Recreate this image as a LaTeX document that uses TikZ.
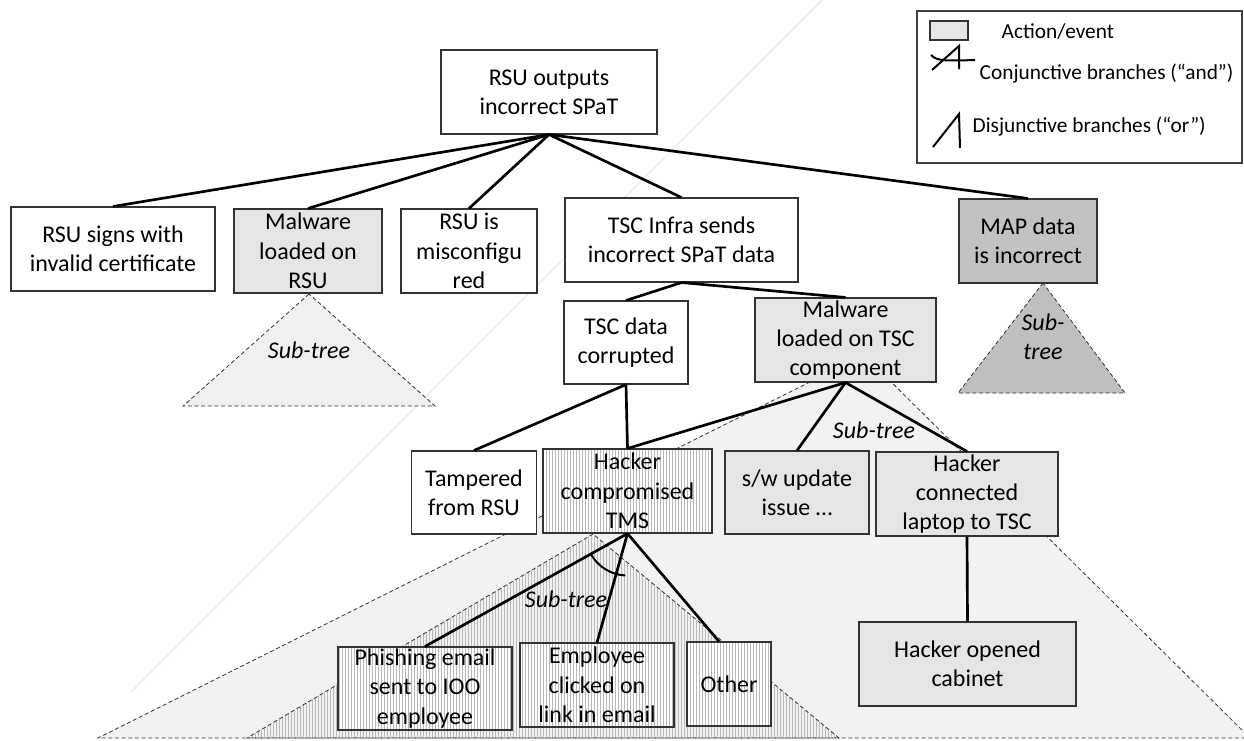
\documentclass[tikz,border=0pt]{standalone}
\usepackage{fontspec}
\setmainfont{Carlito}
\usetikzlibrary{patterns.meta}
\newcommand{\boxfont}{\fontsize{18}{22}\selectfont}
\newcommand{\legfont}{\fontsize{16}{19}\selectfont}
\tikzset{event/.style={draw=black!80, line width=0.8pt, fill=white, align=center,
                       inner sep=0pt, font=\boxfont},
         action/.style={event, fill=gray!20},
         mapbox/.style={event, fill=gray!48},
         hatched/.style={event, preaction={fill=white},
                         pattern={Lines[angle=90,distance=2.25pt,line width=0.6pt]},
                         pattern color=gray!55},
         sz/.style 2 args={minimum width=#1*0.75pt, minimum height=#2*0.75pt},
         branch/.style={line width=2pt},
         subtree/.style={draw=black!80, line width=0.6pt, dash pattern=on 3pt off 2pt},
         subtext/.style={font=\boxfont\itshape, align=center}}

\begin{document}
\begin{tikzpicture}[x=0.75pt,y=-0.75pt]
\useasboundingbox (0,0) rectangle (1244,740);
\draw[gray!12, line width=1.5pt] (822,0) -- (131,692);
% sub-trees
\draw[subtree, fill=gray!10] (864,355) -- (98,738) -- (1250,738) -- cycle;
\draw[subtree, pattern={Lines[angle=90,distance=2.25pt,line width=0.6pt]},
      pattern color=gray!55] (593,534) -- (247,738) -- (839,738) -- cycle;
\draw[subtree, fill=gray!12] (309,294) -- (183,406) -- (435,406) -- cycle;
\draw[subtree, fill=gray!50] (1043,283) -- (958,393) -- (1125,393) -- cycle;

\node[event, sz={216}{84}] (root) at (549,92) {RSU outputs\\incorrect SPaT};
\node[event, sz={204}{84}] (sign) at (113,249) {RSU signs with\\invalid certificate};
\node[action, sz={148}{84}] (malrsu) at (308,251) {Malware\\loaded on\\RSU};
\node[event, sz={136}{84}] (miscfg) at (469,251) {RSU is\\misconfigu\\red};
\node[event, sz={233}{84}] (tscinfra) at (681.5,240) {TSC Infra sends\\incorrect SPaT data};
\node[mapbox, sz={138}{84}] (mapdata) at (1028,241) {MAP data\\is incorrect};
\node[event, sz={124}{83}] (tscdata) at (626,342.5) {TSC data\\corrupted};
\node[action, sz={181}{84}] (maltsc) at (845.5,340) {Malware\\loaded on TSC\\component};
\node[event, sz={125}{83}] (tamper) at (474,492.5) {Tampered\\from RSU};
\node[hatched, sz={169}{84}] (tms) at (627.5,491) {Hacker\\compromised\\TMS};
\node[action, sz={144}{83}] (swupd) at (797,492.5) {s/w update\\issue …};
\node[action, sz={182}{84}] (laptop) at (967,494) {Hacker\\connected\\laptop to TSC};
\node[action, sz={217}{84}] (cabinet) at (967.5,664) {Hacker opened\\cabinet};
\node[hatched, sz={174}{83}] (phish) at (425,688.5) {Phishing email\\sent to IOO\\employee};
\node[hatched, sz={154}{84}] (employee) at (597,685) {Employee\\clicked on\\link in email};
\node[hatched, sz={84}{84}] (other) at (729,684) {Other};

\draw[branch] (root.south) -- (sign.north);
\draw[branch] (root.south) -- (malrsu.north);
\draw[branch] (root.south) -- (miscfg.north);
\draw[branch] (root.south) -- (tscinfra.north);
\draw[branch] (root.south) -- (mapdata.north);
\draw[branch] (tscinfra.south) -- (tscdata.north);
\draw[branch] (tscinfra.south) -- (maltsc.north);
\draw[branch] (tscdata.south) -- (tamper.north);
\draw[branch] (tscdata.south) -- (tms.north);
\draw[branch] (maltsc.south) -- (tms.north);
\draw[branch] (maltsc.south) -- (swupd.north);
\draw[branch] (maltsc.south) -- (laptop.north);
\draw[branch] (laptop.south) -- (cabinet.north);
\draw[branch] (tms.south) -- (phish.north);
\draw[branch] (tms.south) -- (employee.north);
\draw[branch] (tms.south) -- ([xshift=-7.5pt]other.north);
\draw[branch, line width=1.5pt] ([shift={(209:31.5pt)}]tms.south)
      arc[start angle=209, end angle=267, radius=31.5pt];

\node[subtext] (stmal) at (309,350) {Sub-tree};
\node[subtext] (stmap) at (1043,337) {Sub-\\tree};
\node[subtext] (sttsc) at (874,430) {Sub-tree};
\node[subtext] (sttms) at (566,599) {Sub-tree};

% legend
\draw[black!75, line width=1pt] (917,11) rectangle (1242,163);
\node[action, sz={38}{19}] (legbox) at (949,30.5) {};
\node[anchor=west, font=\legfont] (legaction) at (997,32) {Action/event};
\draw[line width=1.5pt] (932,70) -- (959,46) -- (959,69);
\draw[line width=1.5pt] (931,55) .. controls (937,61) and (944,61) .. (975,60);
\node[anchor=west, font=\legfont] (legand) at (975,74) {Conjunctive branches (“and”)};
\draw[line width=1.5pt] (933,147) -- (959,114) -- (960,148);
\node[anchor=west, font=\legfont] (legor) at (968,127) {Disjunctive branches (“or”)};
\end{tikzpicture}
\end{document}
